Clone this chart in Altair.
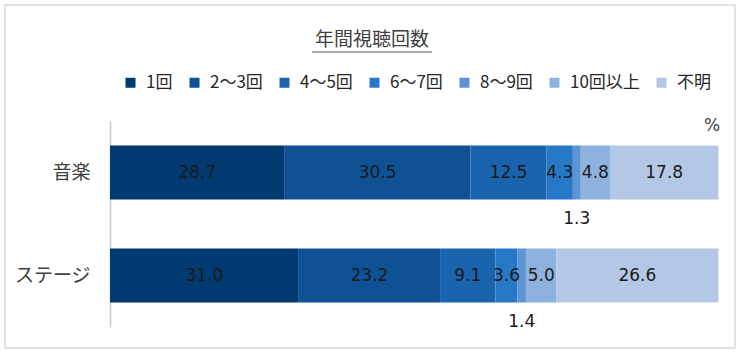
import altair as alt
import pandas as pd

categories = ["音楽", "ステージ"]
groups = ["1回", "2〜3回", "4〜5回", "6〜7回", "8〜9回", "10回以上", "不明"]
music = [28.7, 30.5, 12.5, 4.3, 1.3, 4.8, 17.8]
stage = [31.0, 23.2, 9.1, 3.6, 1.4, 5.0, 26.6]
colors = ["#003a70", "#0e5195", "#1a64ad", "#2878c8", "#5b93d3", "#8eb2de", "#b4c8e6"]
chart_title = "年間視聴回数"
unit_label = "%"

FONT_NUM = "DejaVu Sans, Noto Sans CJK JP"
FONT_JP = "Noto Sans CJK JP"

rows = []
for cat, vals in zip(categories, [music, stage]):
    cum = 0.0
    for g, v in zip(groups, vals):
        rows.append({
            "cat": cat, "grp": g, "v": v,
            "start": cum, "end": cum + v, "mid": cum + v / 2,
            "label": f"{v:.1f}", "small": v < 2,
        })
        cum += v
df = pd.DataFrame(rows)

W, H = 609, 206
PL, PT = 110, 121

yenc = alt.Y(
    "cat:N", sort=categories,
    scale=alt.Scale(paddingInner=0.476, paddingOuter=0.238),
    axis=alt.Axis(title=None, ticks=False, domainColor="#c8c8c8", domainWidth=1.5,
                  labelFontSize=19, labelPadding=20, labelFont=FONT_JP,
                  labelColor="#404040", labelFontWeight="normal"),
)
xscale = alt.Scale(domain=[0, 100], nice=False, zero=True)

base = alt.Chart(df)

bars = base.mark_bar(strokeWidth=0).encode(
    x=alt.X("start:Q", scale=xscale, axis=None),
    x2="end:Q",
    y=yenc,
    color=alt.Color(
        "grp:N",
        scale=alt.Scale(domain=groups, range=colors),
        legend=alt.Legend(
            orient="none", legendX=12, legendY=-47, direction="horizontal",
            columns=7, title=None, symbolType="square", symbolSize=100,
            symbolStrokeWidth=0, labelFontSize=17, labelFont=FONT_JP,
            labelColor="#262626", columnPadding=13, labelOffset=7,
        ),
    ),
)

inner = base.transform_filter("!datum.small").mark_text(
    fontSize=17, font=FONT_NUM, color="#1a1a1a"
).encode(
    x=alt.X("mid:Q", scale=xscale, axis=None),
    y=yenc,
    text="label:N",
)

outer = base.transform_filter("datum.small").mark_text(
    fontSize=17, font=FONT_NUM, color="#1a1a1a", dy=46
).encode(
    x=alt.X("mid:Q", scale=xscale, axis=None),
    y=yenc,
    text="label:N",
)

one = pd.DataFrame({"t": [chart_title], "u": [unit_label]})

border = alt.Chart(one).mark_rect(fillOpacity=0, stroke="#d9d9d9", strokeWidth=1.5).encode(
    x=alt.value(5 - PL), x2=alt.value(735 - PL),
    y=alt.value(5 - PT), y2=alt.value(348 - PT),
)

title = alt.Chart(one).mark_text(fontSize=19, font=FONT_JP, color="#404040").encode(
    x=alt.value(372 - PL), y=alt.value(40 - PT), text="t:N"
)
underline = alt.Chart(one).mark_rule(color="#595959", strokeWidth=1).encode(
    x=alt.value(312 - PL), x2=alt.value(432 - PL), y=alt.value(52 - PT)
)
pct = alt.Chart(one).mark_text(fontSize=17, font=FONT_NUM, color="#404040").encode(
    x=alt.value(712 - PL), y=alt.value(126 - PT), text="u:N"
)

chart = alt.layer(border, bars, inner, outer, title, underline, pct).properties(
    width=W, height=H, autosize="none",
    padding={"left": PL, "top": PT, "right": 744 - PL - W, "bottom": 354 - PT - H},
).configure(background="white").configure_view(stroke=None)

chart.save("out.html", embed_options={"renderer": "svg", "actions": False})
